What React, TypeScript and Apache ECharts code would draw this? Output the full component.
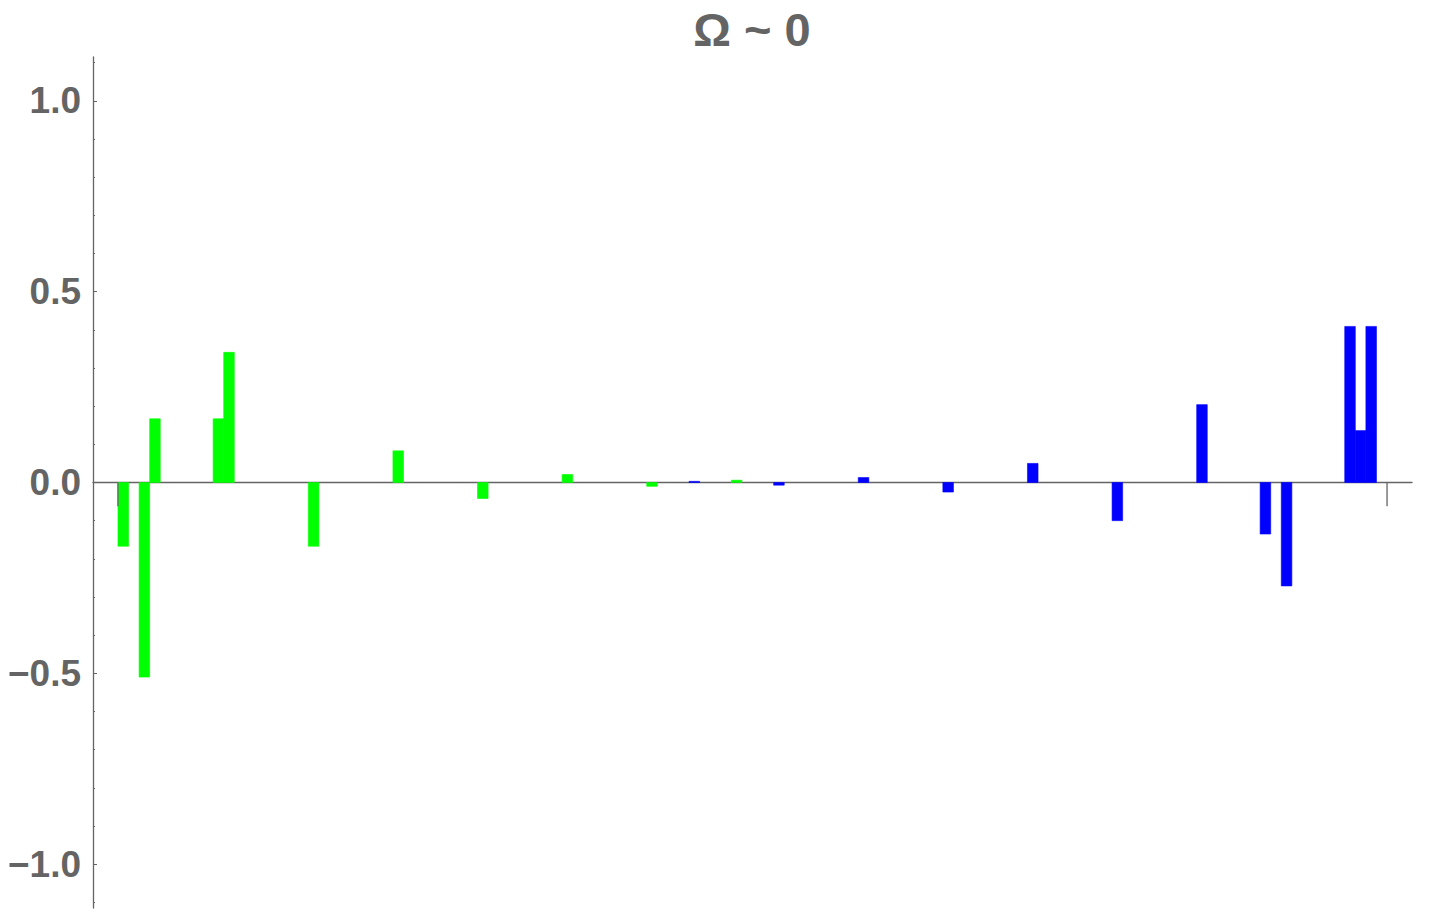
import React, { useEffect, useRef } from "react";
import * as echarts from "echarts";

// Slot index (each bar occupies one slot [k, k+1]) and bar values
const greenSlots = [0, 2, 3, 9, 10, 18, 26, 34, 42, 50, 58];
const greenValues = [-0.167, -0.51, 0.167, 0.167, 0.341, -0.167, 0.083, -0.042, 0.021, -0.01, 0.006];
const blueSlots = [54, 62, 70, 78, 86, 94, 102, 108, 110, 116, 117, 118];
const blueValues = [0.003, -0.007, 0.013, -0.025, 0.05, -0.1, 0.204, -0.135, -0.271, 0.409, 0.136, 0.409];

// thin end ticks on the zero axis
const endTickSlots = [0, 120];
const endTickDepth = -0.062;

// y axis ticks and labels
const majorTicks = [-1, -0.5, 0.5, 1];
const labelValues = [-1, -0.5, 0, 0.5, 1];
const minorTicks = [-1.1, -0.9, -0.8, -0.7, -0.6, -0.4, -0.3, -0.2, -0.1, 0.1, 0.2, 0.3, 0.4, 0.6, 0.7, 0.8, 0.9, 1.1];

const title = "Ω ~ 0";

const GRAY = "#646464";
const FONT = "'Liberation Sans', Arial, Helvetica, sans-serif";

function barRender(color: string) {
  return (params: any, api: any) => {
    const k = api.value(0);
    const v = api.value(1);
    const p0 = api.coord([k, 0]);
    const p1 = api.coord([k + 1, v]);
    const y = Math.min(p0[1], p1[1]);
    const h = Math.abs(p1[1] - p0[1]);
    return {
      type: "rect",
      shape: { x: p0[0], y, width: p1[0] - p0[0], height: h },
      style: { fill: color, stroke: color, lineWidth: 0.6 },
    };
  };
}

export default function App() {
  const ref = useRef<HTMLDivElement>(null);
  useEffect(() => {
    if (!ref.current) return;
    const chart = echarts.init(ref.current, undefined, { renderer: "svg" });
    const fmt = (v: number) => v.toFixed(1).replace("-", "\u2212");
    chart.setOption({
      animation: false,
      backgroundColor: "#ffffff",
      title: {
        text: title,
        left: 747,
        textAlign: "center",
        top: 1,
        textStyle: { fontFamily: FONT, fontWeight: "bold", fontSize: 47, color: GRAY },
      },
      grid: { left: 93, right: 28, top: 57, bottom: 2, containLabel: false },
      xAxis: {
        type: "value",
        min: -2.36,
        max: 122.36,
        axisLine: { show: true, onZero: true, lineStyle: { color: GRAY, width: 1.3 } },
        axisTick: { show: false },
        axisLabel: { show: false },
        splitLine: { show: false },
      },
      yAxis: [
        {
          type: "value",
          position: "left",
          min: -1.115,
          max: 1.115,
          axisLine: { show: true, onZero: false, lineStyle: { color: GRAY, width: 1.3 } },
          axisTick: { show: true, inside: true, length: 4, customValues: majorTicks, lineStyle: { color: GRAY } },
          axisLabel: {
            show: true,
            customValues: labelValues,
            formatter: fmt,
            margin: 12,
            fontFamily: FONT,
            fontWeight: "bold",
            fontSize: 37,
            color: GRAY,
          },
          splitLine: { show: false },
        },
        {
          type: "value",
          position: "left",
          min: -1.115,
          max: 1.115,
          axisLine: { show: false, onZero: false },
          axisTick: { show: true, inside: true, length: 2, customValues: minorTicks, lineStyle: { color: GRAY } },
          axisLabel: { show: false },
          splitLine: { show: false },
        },
      ],
      series: [
        {
          type: "custom",
          name: "green",
          renderItem: barRender("#00ff00"),
          data: greenSlots.map((k, i) => [k, greenValues[i]]),
          encode: { x: 0, y: 1 },
          z: 2,
        },
        {
          type: "custom",
          name: "blue",
          renderItem: barRender("#0000ff"),
          data: blueSlots.map((k, i) => [k, blueValues[i]]),
          encode: { x: 0, y: 1 },
          z: 2,
        },
        {
          type: "custom",
          name: "ticks",
          renderItem: (params: any, api: any) => {
            const k = api.value(0);
            const a = api.coord([k, 0]);
            const b = api.coord([k, api.value(1)]);
            return {
              type: "line",
              shape: { x1: a[0], y1: a[1], x2: b[0], y2: b[1] },
              style: { stroke: GRAY, lineWidth: 1.3 },
            };
          },
          data: endTickSlots.map((k) => [k, endTickDepth]),
          encode: { x: 0, y: 1 },
          z: 3,
        },
      ],
    });
    return () => chart.dispose();
  }, []);
  return (
    <div
      ref={ref}
      style={{ position: "fixed", left: 0, top: 0, width: 1440, height: 910 }}
    />
  );
}
